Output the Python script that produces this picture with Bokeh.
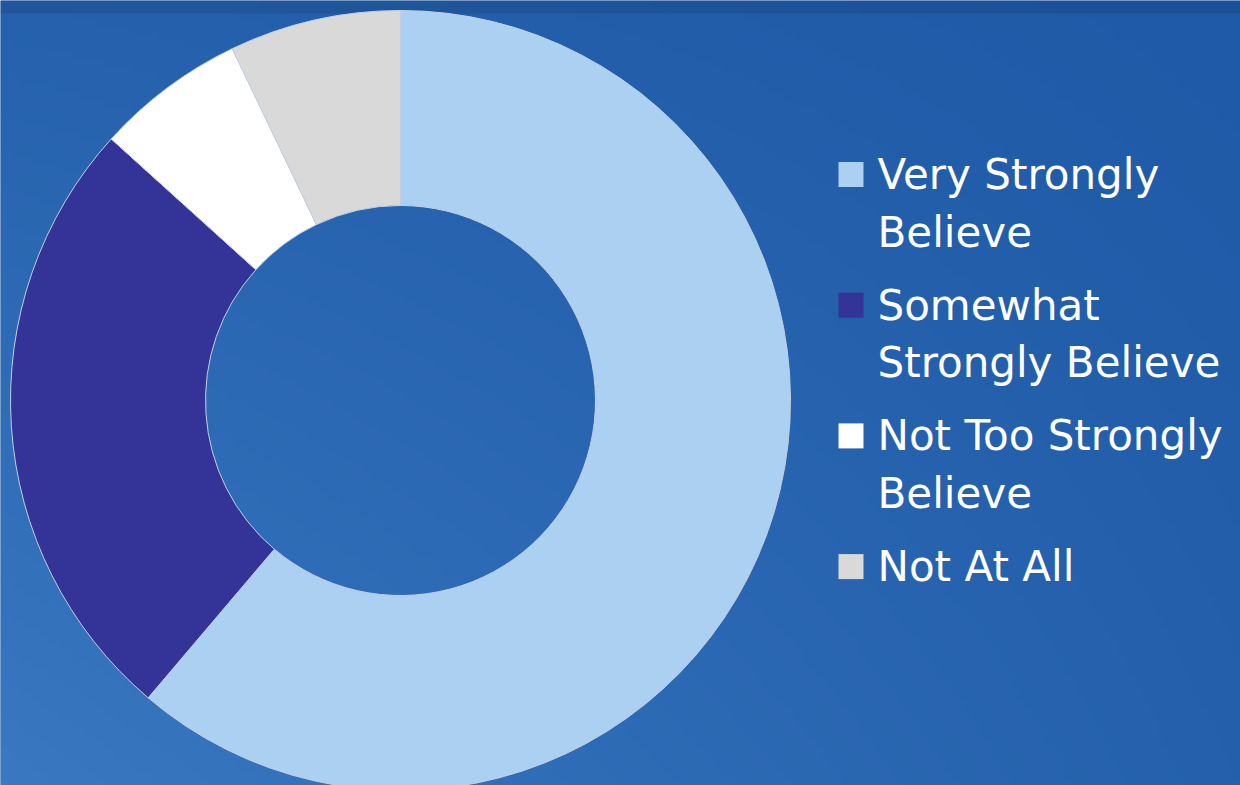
import numpy as np
from bokeh.plotting import figure
from bokeh.models import Range1d
from bokeh.core.properties import value
from bokeh.embed import file_html
from bokeh.resources import INLINE

# ---- data ----
categories = ["Very Strongly Believe", "Somewhat Strongly Believe",
              "Not Too Strongly Believe", "Not At All"]
legend_lines = [["Very Strongly", "Believe"],
                ["Somewhat", "Strongly Believe"],
                ["Not Too Strongly", "Believe"],
                ["Not At All"]]
shares = [61.2, 25.5, 6.2, 7.1]
colors = ["#abd0f1", "#343397", "#ffffff", "#d9d9d9"]

W, H = 1240, 785
p = figure(width=W, height=H, output_backend="svg", toolbar_location=None,
           x_range=Range1d(0, W), y_range=Range1d(0, H), min_border=0)
p.axis.visible = False
p.grid.visible = False
p.outline_line_color = None
p.background_fill_color = "#2a66ae"
p.border_fill_color = "#2a66ae"

# background gradient
ny, nx = 120, 190
yy, xx = np.mgrid[0:ny, 0:nx]
u = xx / (nx - 1)           # 0 left -> 1 right
v = yy / (ny - 1)           # 0 bottom -> 1 top
TL = np.array([37, 97, 172]); TR = np.array([31, 90, 168])
BL = np.array([58, 120, 194]); BR = np.array([36, 96, 171])
col = ((1 - u)[..., None] * (1 - v)[..., None] * BL + u[..., None] * (1 - v)[..., None] * BR
       + (1 - u)[..., None] * v[..., None] * TL + u[..., None] * v[..., None] * TR)
band = (v > 0.985)[..., None]
col = np.where(band, col * 0.9, col)
img = np.zeros((ny, nx), dtype=np.uint32)
view = img.view(dtype=np.uint8).reshape((ny, nx, 4))
view[..., 0] = col[..., 0].astype(np.uint8)
view[..., 1] = col[..., 1].astype(np.uint8)
view[..., 2] = col[..., 2].astype(np.uint8)
view[..., 3] = 255
p.image_rgba(image=[img], x=0, y=0, dw=W, dh=H)

# donut
cx, cy = 400, 385
r_out, r_in = 390, 195
fr = np.array(shares) / sum(shares)
cum = np.concatenate([[0], np.cumsum(fr)])
starts = np.pi / 2 - 2 * np.pi * cum[:-1]
ends = np.pi / 2 - 2 * np.pi * cum[1:]
p.annular_wedge(x=cx, y=cy, inner_radius=r_in, outer_radius=r_out,
                start_angle=list(starts), end_angle=list(ends), direction="clock",
                fill_color=colors, line_color="#c3cfe0", line_width=1)

# legend
lx_sq, lx_txt = 850.5, 877
base0 = H - 190
item_step = 130.7
line_step = 57.5
text_shift = 16
sq_x, sq_y, tx, ty, tt = [], [], [], [], []
for k, lines in enumerate(legend_lines):
    b = base0 - item_step * k
    sq_x.append(lx_sq)
    sq_y.append(b + 16)
    for j, ln in enumerate(lines):
        tx.append(lx_txt)
        ty.append(b - line_step * j + text_shift)
        tt.append(ln)
p.rect(x=sq_x, y=sq_y, width=25, height=25, fill_color=colors, line_color=None)
p.text(x=tx, y=ty, text=tt, text_color="white", text_font=value("DejaVu Sans"),
       text_font_size="42px", text_baseline="alphabetic", text_align="left")

open("out.html", "w").write(file_html(p, INLINE))
